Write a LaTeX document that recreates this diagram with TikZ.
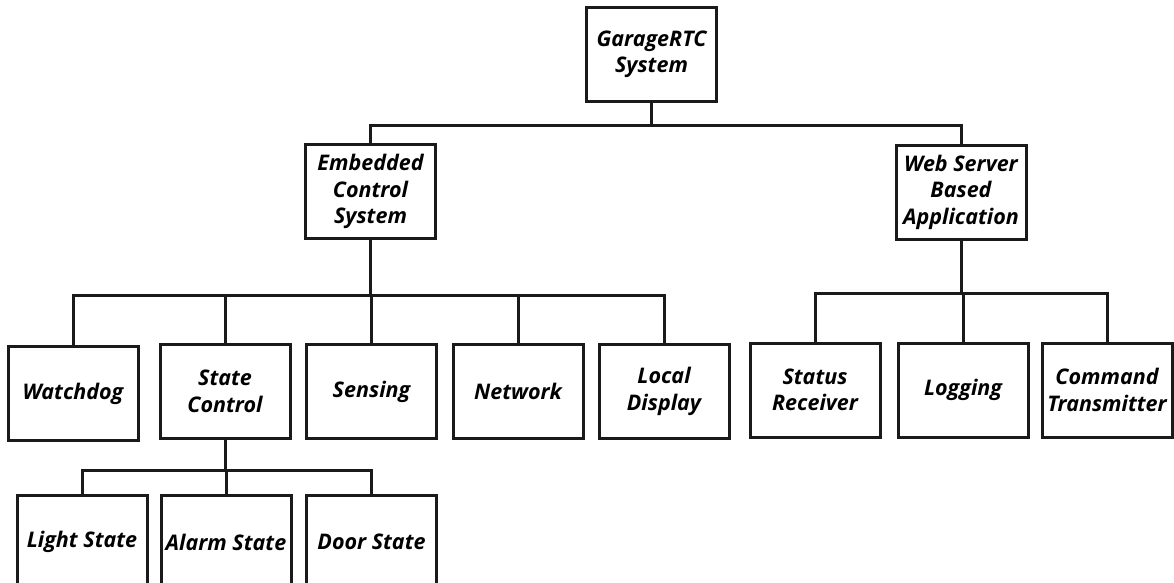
\documentclass[tikz,border=0pt]{standalone}
\usepackage{fontspec}
\setsansfont{Open Sans}
\usepackage{tikz}
\usetikzlibrary{positioning}
\definecolor{BoxLine}{HTML}{1A1A1A}

\begin{document}
\begin{tikzpicture}[x=1pt, y=-1pt,
                module/.style={draw=BoxLine, line width=3pt, fill=white, minimum width=130pt, minimum height=94pt, inner sep=0pt, align=center, font=\fontsize{21.5}{26.5}\selectfont\sffamily\bfseries\itshape},
                link/.style={draw=BoxLine, line width=3pt}]
                % Page frame
                \useasboundingbox (0,0) rectangle (1174,582);
                \clip (0,0) rectangle (1174,582);

                % Top level
                \node[module] (root) at (651.5, 54.5) {GarageRTC\\System};

                % Second level
                \node[module] (emb) at (370.5, 191.5) {Embedded\\Control\\System};
                \node[module] (web) at (961, 192) {Web Server\\Based\\Application};

                % Embedded control modules
                \node[module] (watch) at (73, 393.5) {Watchdog};
                \node[module] (state) at (225, 391.5) {State\\Control};
                \node[module] (sens) at (371.5, 391.5) {Sensing};
                \node[module] (net) at (518, 391.5) {Network};
                \node[module] (disp) at (664, 391.5) {Local\\Display};

                % Web application modules
                \node[module] (stat) at (815, 390) {Status\\Receiver};
                \node[module] (logg) at (963, 390) {Logging};
                \node[module] (cmd) at (1107, 390) {Command\\Transmitter};

                % State control sub-modules
                \node[module] (light) at (82, 542) {Light State};
                \node[module] (alarm) at (226, 542) {Alarm State};
                \node[module] (door) at (371.5, 542) {Door State};

                % Tree links
                \foreach \c in {emb, web}
                    \draw[link] (root.south) -- ++(0,22) -| (\c.north);
                \foreach \c in {watch, state, sens, net, disp}
                    \draw[link] (emb.south) -- ++(0,55) -| (\c.north);
                \foreach \c in {stat, logg, cmd}
                    \draw[link] (web.south) -- ++(0,53) -| (\c.north);
                \foreach \c in {light, alarm, door}
                    \draw[link] (state.south) -- ++(0,30) -| (\c.north);
            \end{tikzpicture}
\end{document}
